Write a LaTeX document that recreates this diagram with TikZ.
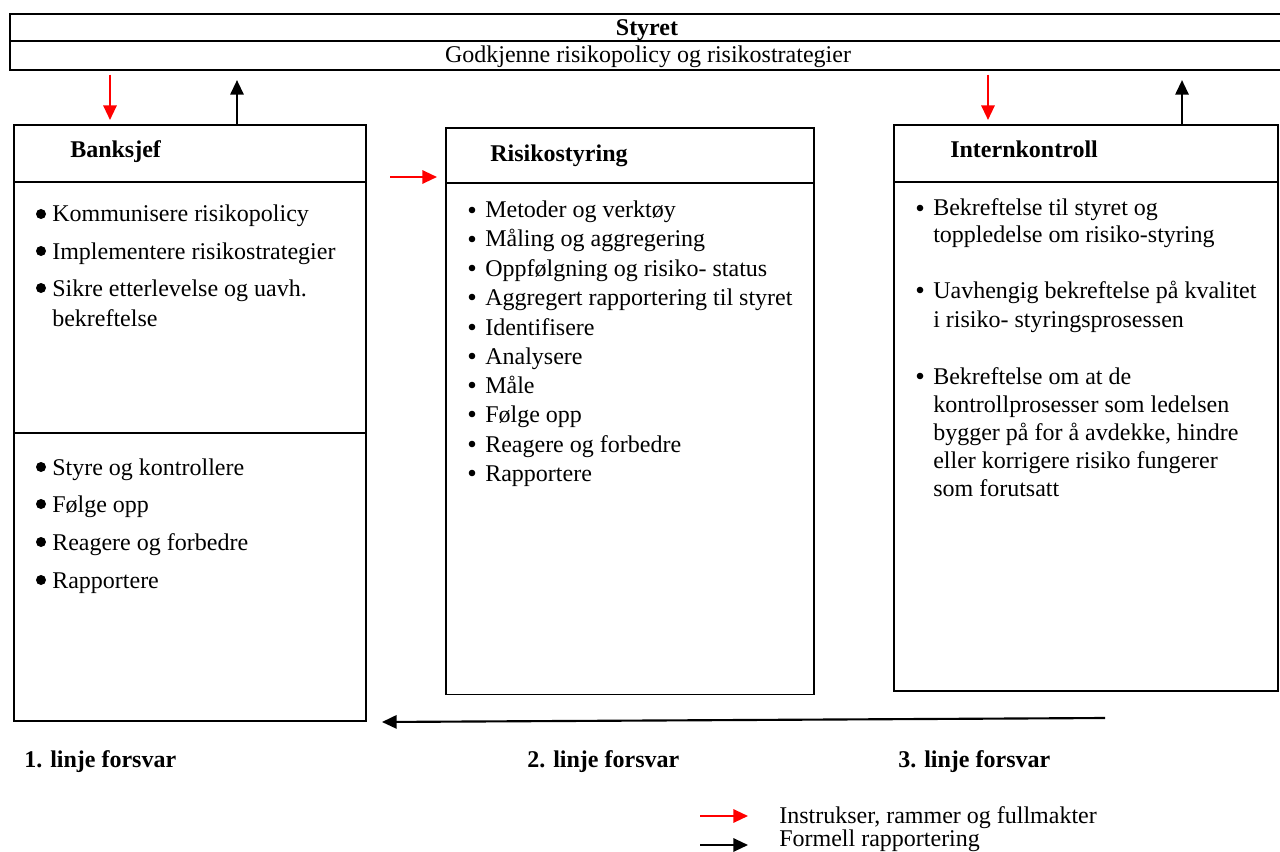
\documentclass[tikz,border=0pt]{standalone}
\usepackage{fontspec}
\setmainfont{Liberation Serif}
\usetikzlibrary{arrows.meta}

\newcommand{\orgfont}{\fontsize{18}{21.6}\selectfont}

\tikzset{
  box/.style={draw, line width=1.3pt, anchor=north west, inner sep=0pt},
  txt/.style={inner sep=0pt, text height=15pt, text depth=3pt},
  head/.style={txt, font=\orgfont\bfseries, anchor=west},
  item/.style={txt, anchor=west},
  instr/.style={red, line width=1.6pt, -{Triangle[length=11pt,width=10pt]}},
  rapp/.style={black, line width=1.6pt, -{Triangle[length=11pt,width=10pt]}},
}

\begin{document}
\begin{tikzpicture}[x=0.75pt, y=-0.75pt, font=\orgfont]
\useasboundingbox (0,0) rectangle (1280,852);

% Styret
\node[box, minimum width=957pt, minimum height=42pt] (sty) at (9,13) {};
\draw[line width=1.3pt] (sty.west |- 0,41) -- (sty.east |- 0,41);
\node[txt, font=\orgfont\bfseries] (styt) at (647,28) {Styret};
\node[txt] (styg) at (648,55) {Godkjenne risikopolicy og risikostrategier};

% Boxes
\node[box, minimum width=264pt, minimum height=447pt] (bank) at (13,124) {};
\node[box, minimum width=276pt, minimum height=425pt] (risk) at (445,127) {};
\node[box, minimum width=288pt, minimum height=424.5pt] (intk) at (893,124) {};
\draw[line width=1.3pt] (bank.west |- 0,182) -- (bank.east |- 0,182);
\draw[line width=1.3pt] (bank.west |- 0,433) -- (bank.east |- 0,433);
\draw[line width=1.3pt] (risk.west |- 0,183) -- (risk.east |- 0,183);
\draw[line width=1.3pt] (intk.west |- 0,182) -- (intk.east |- 0,182);

\node[head] (bankh) at (70,150) {Banksjef};
\node[head] (riskh) at (490,154) {Risikostyring};
\node[head] (intkh) at (950,150) {Internkontroll};

% Banksjef
\foreach \y/\t in {214/Kommunisere risikopolicy, 251/Implementere risikostrategier,
  288/Sikre etterlevelse og uavh., 318/bekreftelse, 467/Styre og kontrollere,
  504/Følge opp, 542/Reagere og forbedre, 580/Rapportere}
  \node[item] (bank-\y) at (52,\y) {\t};
\foreach \y in {214,251,288,467,504,542,580}
  \fill (41,\y) circle (5);

% Risikostyring
\foreach \y/\t in {210/Metoder og verktøy, 239/Måling og aggregering,
  268/Oppfølgning og risiko- status, 297/Aggregert rapportering til styret,
  327/Identifisere, 356/Analysere, 385/Måle, 414/Følge opp,
  444/Reagere og forbedre, 473/Rapportere}
{
  \node[item] (risk-\y) at (485,\y) {\t};
  \fill (472,\y) circle (3.3);
}

% Internkontroll
\foreach \y/\t in {208/Bekreftelse til styret og, 235/toppledelse om risiko-styring,
  290/Uavhengig bekreftelse på kvalitet, 319/i risiko- styringsprosessen,
  376/Bekreftelse om at de, 404/kontrollprosesser som ledelsen,
  432/{bygger på for å avdekke, hindre}, 460/eller korrigere risiko fungerer,
  488/som forutsatt}
  \node[item] (intk-\y) at (933,\y) {\t};
\foreach \y in {208,290,376}
  \fill (920,\y) circle (3.3);

% Arrows
\coordinate (ra) at (110,0);
\coordinate (ba) at (237,0);
\coordinate (rc) at (988,0);
\coordinate (bc) at (1182,0);
\draw[instr] ([yshift=-3pt]sty.south -| ra) -- ([yshift=3pt]bank.north -| ra);
\draw[rapp] (bank.north -| ba) -- ([yshift=-7pt]sty.south -| ba);
\draw[instr] ([yshift=-3pt]sty.south -| rc) -- ([yshift=3pt]intk.north -| rc);
\draw[rapp] (intk.north -| bc) -- ([yshift=-7pt]sty.south -| bc);

\coordinate (mrs) at (390,177);
\draw[instr] (mrs) -- ([xshift=-6pt]risk.west |- mrs);

\coordinate (bks) at (1105,718);
\coordinate (bke) at (382,722);
\draw[rapp] (bks) -- (bke);

% Linjer
\node[head] (l1) at (24,759) {1. linje forsvar};
\node[head] (l2) at (527,759) {2. linje forsvar};
\node[head] (l3) at (898,759) {3. linje forsvar};

% Legend
\coordinate (lr1) at (700,816);
\coordinate (lr2) at (748,816);
\coordinate (lb1) at (700,845);
\coordinate (lb2) at (748,845);
\draw[instr] (lr1) -- (lr2);
\draw[rapp] (lb1) -- (lb2);
\node[item] (leg1) at (779,815) {Instrukser, rammer og fullmakter};
\node[item] (leg2) at (779,838) {Formell rapportering};

\end{tikzpicture}
\end{document}
